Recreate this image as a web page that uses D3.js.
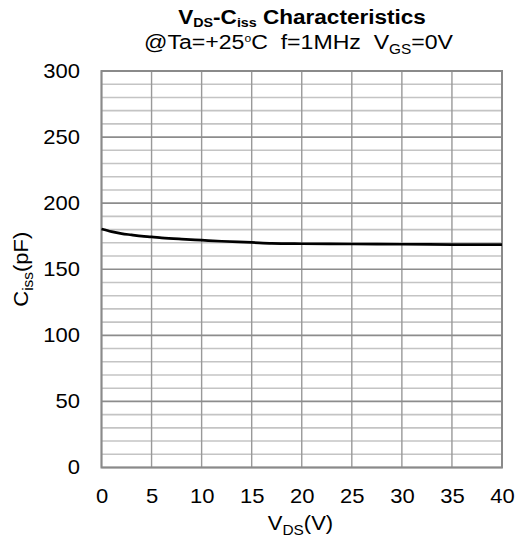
<!DOCTYPE html>
<html>
<head>
<meta charset="utf-8">
<script src="https://cdn.jsdelivr.net/npm/d3@7"></script>
<style>
  body { margin: 0; background: #fff; }
  text { font-family: "Liberation Sans", Arial, sans-serif; fill: #000; white-space: pre; }
</style>
</head>
<body>
<script>
// data
var vds = [0, 1, 2, 3, 4, 5, 6, 8, 10, 12, 15, 17, 20, 25, 30, 35, 40];
var ciss = [180.5, 178.5, 177, 176, 175, 174.5, 173.8, 172.8, 172, 171.2, 170.3, 169.6, 169.3, 169.1, 168.9, 168.7, 168.6];
var xTicks = [0, 5, 10, 15, 20, 25, 30, 35, 40];
var yTicks = [0, 50, 100, 150, 200, 250, 300];
var yMinor = d3.range(0, 301, 10);

var width = 517, height = 547;
var pLeft = 101.5, pRight = 502, pTop = 71, pBottom = 467.5;
var sx = 1.1; // text in the original is a bit wide

var svg = d3.select("body").append("svg")
  .attr("width", width)
  .attr("height", height);

var x = d3.scaleLinear().domain([0, 40]).range([pLeft, pRight]);
var y = d3.scaleLinear().domain([0, 300]).range([pBottom, pTop]);

// minor horizontal grid
svg.append("g").selectAll("line")
  .data(yMinor.filter(function(d) { return d % 50 != 0; }))
  .enter().append("line")
  .attr("x1", pLeft).attr("x2", pRight)
  .attr("y1", function(d) { return y(d); })
  .attr("y2", function(d) { return y(d); })
  .style("stroke", "#c4c4c4")
  .style("stroke-width", 1.6);

// vertical grid
svg.append("g").selectAll("line")
  .data(xTicks)
  .enter().append("line")
  .attr("x1", function(d) { return x(d); })
  .attr("x2", function(d) { return x(d); })
  .attr("y1", pTop).attr("y2", pBottom)
  .style("stroke", "#999")
  .style("stroke-width", 1.4);

// major horizontal grid
svg.append("g").selectAll("line")
  .data(yTicks)
  .enter().append("line")
  .attr("x1", pLeft).attr("x2", pRight)
  .attr("y1", function(d) { return y(d); })
  .attr("y2", function(d) { return y(d); })
  .style("stroke", "#8c8c8c")
  .style("stroke-width", 1.6);

// border
svg.append("rect")
  .attr("x", pLeft).attr("y", pTop)
  .attr("width", pRight - pLeft).attr("height", pBottom - pTop)
  .style("fill", "none")
  .style("stroke", "#8a8a8a")
  .style("stroke-width", 2);

// curve
var line = d3.line()
  .x(function(d, i) { return x(vds[i]); })
  .y(function(d) { return y(d); })
  .curve(d3.curveMonotoneX);

svg.append("path")
  .datum(ciss)
  .attr("d", line)
  .style("fill", "none")
  .style("stroke", "#000")
  .style("stroke-width", 2.7);

// axes
var yAxis = svg.append("g")
  .attr("transform", "translate(" + pLeft + ",0)")
  .call(d3.axisLeft(y).tickValues(yTicks).tickSize(0).tickPadding(21.5));
var xAxis = svg.append("g")
  .attr("transform", "translate(0," + pBottom + ")")
  .call(d3.axisBottom(x).tickValues(xTicks).tickSize(0).tickPadding(21));

[yAxis, xAxis].forEach(function(a) {
  a.select(".domain").remove();
  a.selectAll("text")
    .style("font-family", "'Liberation Sans', Arial, sans-serif")
    .style("font-size", "20px")
    .style("fill", "#000");
});
yAxis.selectAll("text").attr("x", -21.5 / sx).attr("transform", "scale(" + sx + ",1)");
xAxis.selectAll("text").attr("transform", "scale(" + sx + ",1)");

function label(tx, ty, rot) {
  return svg.append("g")
    .attr("transform", "translate(" + tx + "," + ty + ")" + (rot ? " rotate(" + rot + ")" : "") + " scale(" + sx + ",1)")
    .append("text")
    .attr("text-anchor", "middle");
}

// title
var title = label(302, 23.5).style("font-size", "20.5px").style("font-weight", "bold");
title.append("tspan").text("V");
title.append("tspan").attr("dy", 3).style("font-size", "13px").text("DS");
title.append("tspan").attr("dy", -3).text("-C");
title.append("tspan").attr("dy", 3).style("font-size", "13px").text("iss");
title.append("tspan").attr("dy", -3).text(" Characteristics");

var sub = label(298.5, 48.5).style("font-size", "21px");
sub.append("tspan").text("@Ta=+25");
sub.append("tspan").attr("dy", -7).style("font-size", "11px").text("o");
sub.append("tspan").attr("dy", 7).text("C  f=1MHz  V");
sub.append("tspan").attr("dy", 5).style("font-size", "14px").text("GS");
sub.append("tspan").attr("dy", -5).text("=0V");

// axis titles
var xl = label(300.5, 530).style("font-size", "20px");
xl.append("tspan").text("V");
xl.append("tspan").attr("dy", 5).style("font-size", "14px").text("DS");
xl.append("tspan").attr("dy", -5).text("(V)");

var yl = label(28, (pTop + pBottom) / 2, -90).style("font-size", "20px");
yl.append("tspan").text("C");
yl.append("tspan").attr("dy", 5).style("font-size", "14px").text("iss");
yl.append("tspan").attr("dy", -5).text("(pF)");
</script>
</body>
</html>
